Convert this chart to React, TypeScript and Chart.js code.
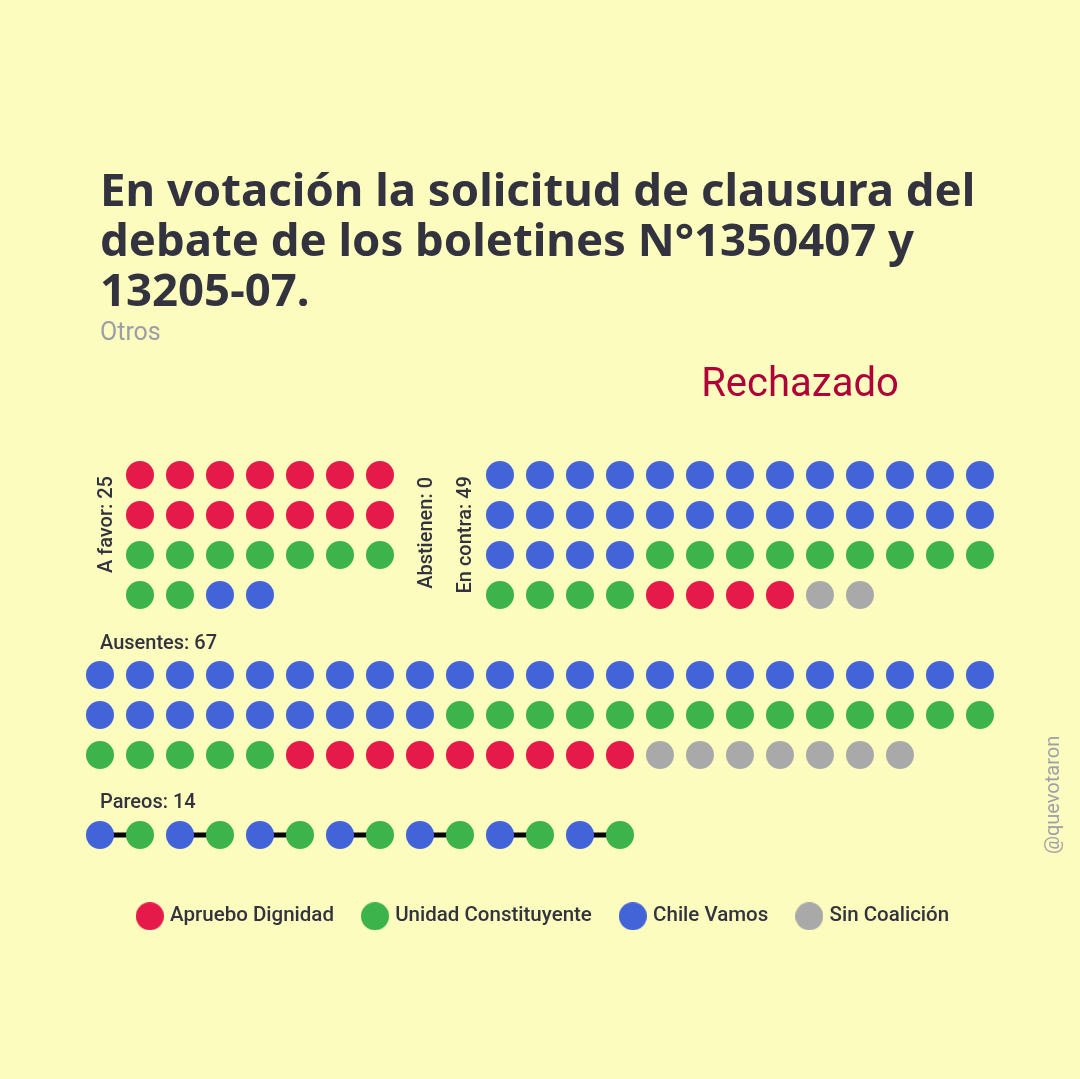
import React, { useEffect, useRef } from "react";
import { Chart, registerables } from "chart.js";

Chart.register(...registerables);

// ---------- data ----------
const coalitions = ["Apruebo Dignidad", "Unidad Constituyente", "Chile Vamos", "Sin Coalición"];
const coalitionColors = ["#e6194b", "#3cb44b", "#4363d8", "#a9a9a9"];
const aFavorCounts = [14, 9, 2, 0];
const abstienenCounts = [0, 0, 0, 0];
const enContraCounts = [4, 13, 30, 2];
const ausentesCounts = [9, 19, 32, 7];
const pareoPairs = [
  ["Chile Vamos", "Unidad Constituyente"],
  ["Chile Vamos", "Unidad Constituyente"],
  ["Chile Vamos", "Unidad Constituyente"],
  ["Chile Vamos", "Unidad Constituyente"],
  ["Chile Vamos", "Unidad Constituyente"],
  ["Chile Vamos", "Unidad Constituyente"],
  ["Chile Vamos", "Unidad Constituyente"],
];
const titleLines = [
  "En votación la solicitud de clausura del",
  "debate de los boletines N°1350407 y",
  "13205-07.",
];
const subtitle = "Otros";
const resultText = "Rechazado";
const groupNames = ["A favor", "Abstienen", "En contra", "Ausentes", "Pareos"];
const credit = "@quevotaron";

// ---------- layout / style ----------
const W = 1080;
const H = 1079;
const BG = "#fcfcbe";
const TEXT = "#333340";
const FONT = "Roboto, 'Noto Sans', sans-serif";
const TITLE_FONT = "'Noto Sans', Roboto, sans-serif";
const CELL = 40;
const ORIGIN_X = 100;
const ORIGIN_Y = 475;
const DOT_R = 14;
const PAD_LEFT = 9;
const LEGEND_FONT = 20.5;
const LEGEND_PAD = 31;
const LEGEND_BOTTOM = 142.5;
const CHART_BOTTOM = H - LEGEND_BOTTOM - (LEGEND_FONT + LEGEND_PAD + 10);

const grids = {
  aFavor: { col: 1, row: 0, cols: 7 },
  enContra: { col: 10, row: 0, cols: 13 },
  ausentes: { col: 0, row: 5, cols: 23 },
  pareos: { col: 0, row: 9 },
};

type P = { x: number; y: number | null };

function placeGroup(counts: number[], g: { col: number; row: number; cols: number }, out: P[][]) {
  const order = counts
    .map((c, i) => i)
    .filter((i) => counts[i] > 0)
    .sort((a, b) => counts[b] - counts[a]);
  let k = 0;
  for (const ci of order) {
    for (let j = 0; j < counts[ci]; j++) {
      out[ci].push({ x: g.col + (k % g.cols), y: g.row + Math.floor(k / g.cols) });
      k++;
    }
  }
}

function sum(a: number[]) {
  return a.reduce((s, v) => s + v, 0);
}

function circleIcon(color: string) {
  const c = document.createElement("canvas");
  c.width = DOT_R * 2;
  c.height = DOT_R * 2;
  const g = c.getContext("2d")!;
  g.fillStyle = color;
  g.beginPath();
  g.arc(DOT_R, DOT_R, DOT_R, 0, Math.PI * 2);
  g.fill();
  return c;
}

function VLabel(props: { text: string; cx: number; y: number; size: number; color: string; weight: number; anchorEnd: boolean }) {
  const w = 240;
  const { text, cx, y, size, color, weight, anchorEnd } = props;
  return (
    <div
      style={{
        position: "absolute",
        left: cx - 0.486 * size,
        top: y + (anchorEnd ? w : 0),
        width: w,
        height: size,
        lineHeight: size + "px",
        fontSize: size,
        fontWeight: weight,
        color,
        whiteSpace: "nowrap",
        textAlign: anchorEnd ? "right" : "left",
        transformOrigin: "0 0",
        transform: "rotate(-90deg)",
      }}
    >
      {text}
    </div>
  );
}

export default function App() {
  const ref = useRef<HTMLCanvasElement | null>(null);

  useEffect(() => {
    document.body.style.margin = "0";
    document.body.style.background = BG;
    const canvas = ref.current!;
    const pts: P[][] = coalitions.map(() => []);
    placeGroup(aFavorCounts, grids.aFavor, pts);
    placeGroup(enContraCounts, grids.enContra, pts);
    placeGroup(ausentesCounts, grids.ausentes, pts);
    const links: P[] = [];
    pareoPairs.forEach((pair, p) => {
      pair.forEach((name, j) => {
        pts[coalitions.indexOf(name)].push({ x: grids.pareos.col + 2 * p + j, y: grids.pareos.row });
      });
      links.push({ x: grids.pareos.col + 2 * p, y: grids.pareos.row });
      links.push({ x: grids.pareos.col + 2 * p + 1, y: grids.pareos.row });
      links.push({ x: grids.pareos.col + 2 * p + 1.5, y: null });
    });
    const icons = coalitionColors.map(circleIcon);

    const chart = new Chart(canvas, {
      type: "scatter",
      data: {
        datasets: [
          ...coalitions.map((name, i) => ({
            label: name,
            data: pts[i],
            backgroundColor: coalitionColors[i],
            borderWidth: 0,
            pointRadius: DOT_R,
            pointHoverRadius: DOT_R,
            order: 0,
          })),
          {
            label: "pareo",
            data: links,
            showLine: true,
            spanGaps: false,
            borderColor: "#000000",
            borderWidth: 5,
            pointRadius: 0,
            pointHoverRadius: 0,
            order: 1,
          },
        ],
      } as any,
      options: {
        responsive: false,
        animation: false,
        events: [],
        layout: { autoPadding: false, padding: { left: PAD_LEFT, right: 0, top: 0, bottom: LEGEND_BOTTOM } },
        scales: {
          x: {
            type: "linear",
            display: false,
            min: -(ORIGIN_X - PAD_LEFT) / CELL,
            max: (W - ORIGIN_X) / CELL,
          },
          y: {
            type: "linear",
            display: false,
            reverse: true,
            min: -ORIGIN_Y / CELL,
            max: (CHART_BOTTOM - ORIGIN_Y) / CELL,
          },
        },
        plugins: {
          tooltip: { enabled: false },
          legend: {
            display: true,
            position: "bottom",
            align: "center",
            labels: {
              usePointStyle: true,
              pointStyleWidth: 20,
              padding: LEGEND_PAD,
              color: TEXT,
              font: { family: FONT, size: LEGEND_FONT, weight: "500" as any },
              filter: (item: any) => item.datasetIndex < coalitions.length,
              generateLabels: (c: any) =>
                (Chart.defaults.plugins.legend.labels.generateLabels as any)(c).map((it: any) => ({
                  ...it,
                  pointStyle: icons[it.datasetIndex] || it.pointStyle,
                })),
            },
          },
        },
      } as any,
    });
    return () => chart.destroy();
  }, []);

  const labelSize = 20;
  return (
    <div style={{ position: "relative", width: W, height: H, background: BG, overflow: "hidden", fontFamily: FONT }}>
      <canvas ref={ref} width={W} height={H} style={{ position: "absolute", left: 0, top: 0 }} />
      <div
        style={{
          position: "absolute",
          left: 100,
          top: 163,
          fontFamily: TITLE_FONT,
          fontSize: 45.5,
          fontWeight: 700,
          lineHeight: "50px",
          color: TEXT,
          whiteSpace: "nowrap",
        }}
      >
        {titleLines.map((l) => (
          <div key={l}>{l}</div>
        ))}
      </div>
      <div style={{ position: "absolute", left: 100, top: 319, fontSize: 25, lineHeight: "25px", color: "#9c9cab" }}>
        {subtitle}
      </div>
      <div
        style={{
          position: "absolute",
          left: 600,
          width: 400,
          top: 363,
          textAlign: "center",
          fontSize: 40,
          lineHeight: "40px",
          color: "#b0003a",
        }}
      >
        {resultText}
      </div>
      <VLabel text={`${groupNames[0]}: ${sum(aFavorCounts)}`} cx={104.4} y={476} size={labelSize} color={TEXT} weight={500} anchorEnd />
      <VLabel text={`${groupNames[1]}: ${sum(abstienenCounts)}`} cx={425} y={477} size={labelSize} color={TEXT} weight={500} anchorEnd />
      <VLabel text={`${groupNames[2]}: ${sum(enContraCounts)}`} cx={464} y={476} size={labelSize} color={TEXT} weight={500} anchorEnd />
      <div style={{ position: "absolute", left: 100, top: 631.5, fontSize: labelSize, lineHeight: labelSize + "px", fontWeight: 500, color: TEXT, whiteSpace: "nowrap" }}>
        {`${groupNames[3]}: ${sum(ausentesCounts)}`}
      </div>
      <div style={{ position: "absolute", left: 100, top: 791.2, fontSize: labelSize, lineHeight: labelSize + "px", fontWeight: 500, color: TEXT, whiteSpace: "nowrap" }}>
        {`${groupNames[4]}: ${pareoPairs.length * 2}`}
      </div>
      <VLabel text={credit} cx={1052} y={854} size={20} color="#a0a0ac" weight={400} anchorEnd={false} />
    </div>
  );
}
